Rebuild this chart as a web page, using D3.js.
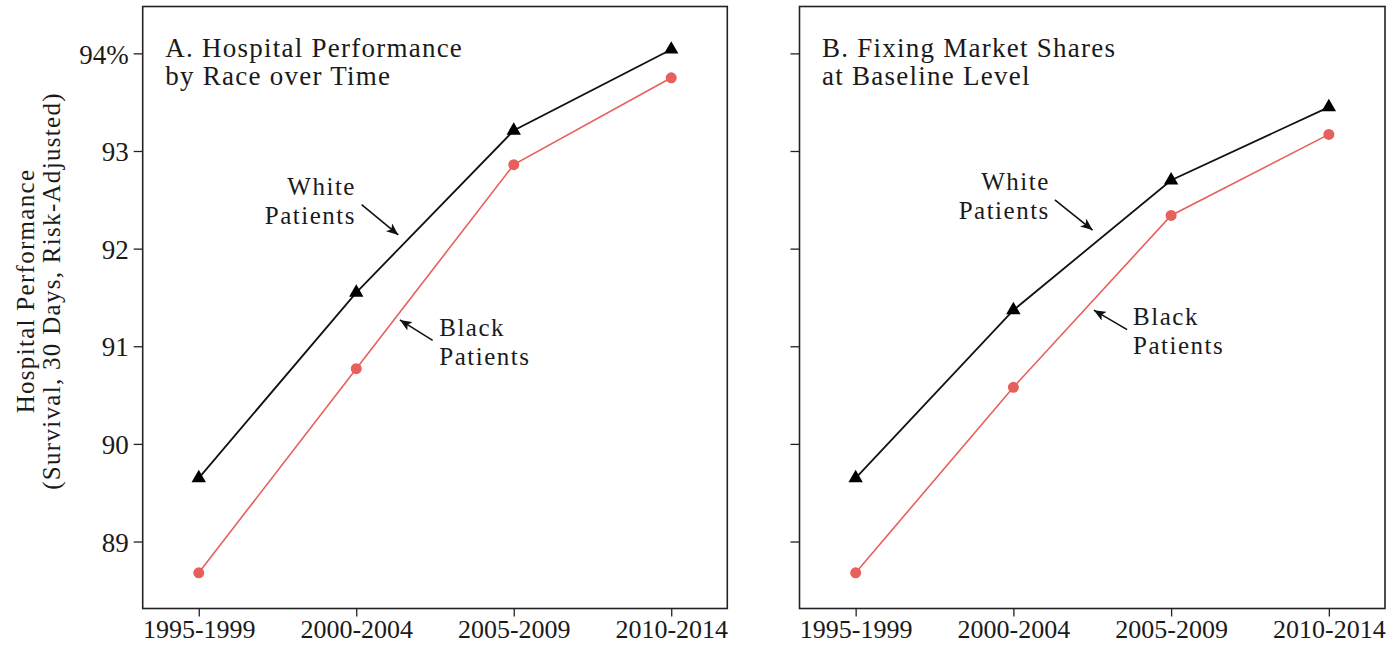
<!DOCTYPE html>
<html>
<head>
<meta charset="utf-8">
<script src="https://cdn.jsdelivr.net/npm/d3@7"></script>
<style>
  html, body { margin: 0; padding: 0; background: #fff; }
  svg { display: block; }
  text { font-family: "Liberation Serif", "Times New Roman", serif; fill: #1a1a1a; }
</style>
</head>
<body>
<svg id="chart" width="1393" height="645"></svg>
<script>
// Time periods on the x axis
const categories = ["1995-1999", "2000-2004", "2005-2009", "2010-2014"];

// Panel A: observed hospital performance (%)
const whiteA = [89.65, 91.55, 93.21, 94.04];
const blackA = [88.68, 90.77, 92.86, 93.75];

// Panel B: market shares held at baseline level (%)
const whiteB = [89.65, 91.37, 92.70, 93.45];
const blackB = [88.68, 90.58, 92.34, 93.17];

// Y ticks and labels
const yTicks = [89, 90, 91, 92, 93, 94];
const yTickLabels = ["89", "90", "91", "92", "93", "94%"];

// Panel titles
const titleA = ["A. Hospital Performance", "by Race over Time"];
const titleB = ["B. Fixing Market Shares", "at Baseline Level"];

// Y axis title
const yTitle = ["Hospital Performance", "(Survival, 30 Days, Risk-Adjusted)"];

// Line labels, placed in data space: [period index, value]
const annotA = {
  white: { text: [0.998, 92.55], tail: [1.034, 92.45], tip: [1.267, 92.14] },
  black: { text: [1.527, 91.10], tail: [1.485, 91.06], tip: [1.277, 91.27] }
};
const annotB = {
  white: { text: [1.231, 92.60], tail: [1.263, 92.50], tip: [1.502, 92.19] },
  black: { text: [1.759, 91.22], tail: [1.721, 91.17], tip: [1.510, 91.37] }
};

const RED = "#e8605b";
const svg = d3.select("#chart");

svg.append("defs").append("marker")
  .attr("id", "arrowhead")
  .attr("viewBox", "0 0 12 10")
  .attr("refX", 12).attr("refY", 5)
  .attr("markerWidth", 12).attr("markerHeight", 10)
  .attr("markerUnits", "userSpaceOnUse")
  .attr("orient", "auto")
  .append("path")
  .attr("d", "M0,0 L12,5 L0,10 L3,5 Z")
  .attr("fill", "#111");

const y = d3.scaleLinear().domain([88.314, 94.48]).range([608.5, 6.5]);

function drawPanel(left, right, white, black, title, annot, showYLabels) {
  const x = d3.scalePoint().domain(categories).range([left, right]).padding(0.356);
  const xi = d3.scaleLinear().domain([0, 1]).range([x(categories[0]), x(categories[1])]);
  const g = svg.append("g");

  // frame
  g.append("rect")
    .attr("x", left).attr("y", y.range()[1])
    .attr("width", right - left).attr("height", y.range()[0] - y.range()[1])
    .attr("fill", "none").attr("stroke", "#222").attr("stroke-width", 1.6);

  // y axis
  const yAxis = d3.axisLeft(y).tickValues(yTicks).tickSize(9).tickPadding(5)
    .tickFormat((d, i) => showYLabels ? yTickLabels[i] : "");
  const ya = g.append("g").attr("transform", `translate(${left},0)`).call(yAxis);
  ya.select(".domain").remove();
  ya.selectAll(".tick line").attr("stroke", "#222").attr("stroke-width", 1.3);
  ya.selectAll(".tick text")
    .style("font-family", '"Liberation Serif", serif')
    .style("font-size", "27px").attr("fill", "#1a1a1a").attr("dy", "0.36em");

  // x axis
  const xAxis = d3.axisBottom(x).tickSize(8).tickPadding(3);
  const xa = g.append("g").attr("transform", `translate(0,${y.range()[0]})`).call(xAxis);
  xa.select(".domain").remove();
  xa.selectAll(".tick line").attr("stroke", "#222").attr("stroke-width", 1.3);
  xa.selectAll(".tick text")
    .style("font-family", '"Liberation Serif", serif')
    .style("font-size", "26px").attr("fill", "#1a1a1a").attr("dy", "0.72em");

  const line = d3.line().x((d, i) => x(categories[i])).y(d => y(d));

  // black patients
  g.append("path").datum(black).attr("d", line)
    .attr("fill", "none").attr("stroke", RED).attr("stroke-width", 1.6);
  g.selectAll(".blk").data(black).join("circle")
    .attr("cx", (d, i) => x(categories[i])).attr("cy", d => y(d))
    .attr("r", 5.5).attr("fill", RED);

  // white patients
  g.append("path").datum(white).attr("d", line)
    .attr("fill", "none").attr("stroke", "#111").attr("stroke-width", 1.8);
  const tri = d3.symbol().type(d3.symbolTriangle).size(90);
  g.selectAll(".wht").data(white).join("path")
    .attr("d", tri)
    .attr("transform", (d, i) => `translate(${x(categories[i])},${y(d)})`)
    .attr("fill", "#000");

  // title
  const t = g.append("text")
    .attr("x", left + 22.5).attr("y", 56.5)
    .style("font-size", "27px").style("letter-spacing", "1.25px");
  title.forEach((s, i) => t.append("tspan").attr("x", left + 22.5).attr("dy", i ? 28.5 : 0).text(s));

  // line labels with arrows
  const labels = [
    { key: "white", lines: ["White", "Patients"], anchor: "end" },
    { key: "black", lines: ["Black", "Patients"], anchor: "start" }
  ];
  labels.forEach(L => {
    const a = annot[L.key];
    const tx = xi(a.text[0]), ty = y(a.text[1]);
    const txt = g.append("text").attr("x", tx).attr("y", ty)
      .attr("text-anchor", L.anchor)
      .style("font-size", "25px").style("letter-spacing", "1.5px");
    L.lines.forEach((s, i) => txt.append("tspan").attr("x", tx).attr("dy", i ? 29 : 0).text(s));
    g.append("line")
      .attr("x1", xi(a.tail[0])).attr("y1", y(a.tail[1]))
      .attr("x2", xi(a.tip[0])).attr("y2", y(a.tip[1]))
      .attr("stroke", "#111").attr("stroke-width", 1.6)
      .attr("marker-end", "url(#arrowhead)");
  });
}

drawPanel(142.7, 727.3, whiteA, blackA, titleA, annotA, true);
drawPanel(799.5, 1385, whiteB, blackB, titleB, annotB, false);

// y axis title
const yt = svg.append("text")
  .attr("transform", "translate(34,291) rotate(-90)")
  .attr("text-anchor", "middle")
  .style("font-size", "25px").style("letter-spacing", "1.3px");
yTitle.forEach((s, i) => yt.append("tspan").attr("x", 0).attr("dy", i ? 26 : 0).text(s));
</script>
</body>
</html>
